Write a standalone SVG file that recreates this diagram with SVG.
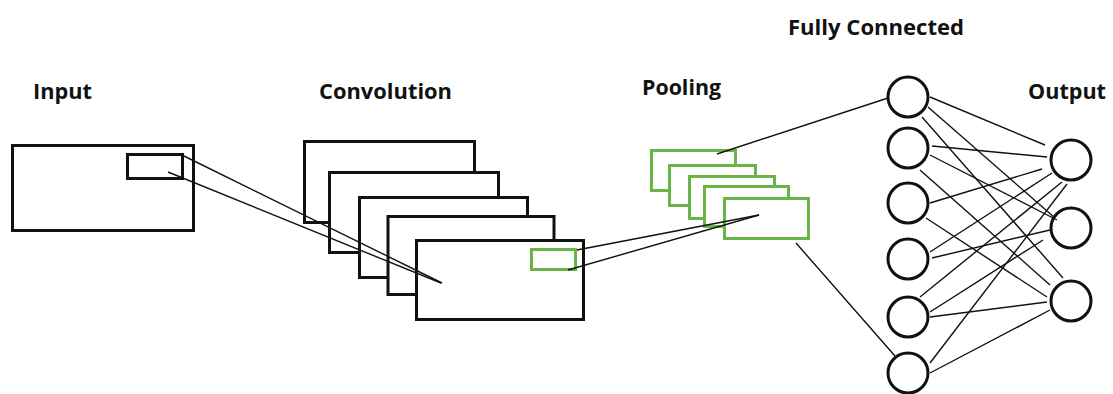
<svg xmlns="http://www.w3.org/2000/svg" width="1113" height="394" viewBox="0 0 1113 394">
<style>
.lbl{font-family:"Open Sans","Liberation Sans",sans-serif;font-weight:bold;font-size:22px;fill:#111}
.blk{fill:#fff;stroke:#111;stroke-width:3}
.grn{fill:#fff;stroke:#6ab547;stroke-width:3}
.grn0{fill:none;stroke:#6ab547;stroke-width:3}
.node{fill:#fff;stroke:#111;stroke-width:3}
.ln{stroke:#111;stroke-width:1.4;fill:none}
</style>
<rect width="1113" height="394" fill="#fff"/>
<g id="labels">
<text class="lbl" x="33" y="99" textLength="59" lengthAdjust="spacingAndGlyphs">Input</text>
<text class="lbl" x="319" y="99" textLength="133" lengthAdjust="spacingAndGlyphs">Convolution</text>
<text class="lbl" x="642" y="95" textLength="79" lengthAdjust="spacingAndGlyphs">Pooling</text>
<text class="lbl" x="788" y="35" textLength="176" lengthAdjust="spacingAndGlyphs">Fully Connected</text>
<text class="lbl" x="1028" y="99" textLength="78" lengthAdjust="spacingAndGlyphs">Output</text>
</g>
<g id="input">
<rect class="blk" x="12.5" y="145.5" width="181" height="85"/>
<rect class="blk" x="127.5" y="154.5" width="55" height="24"/>
</g>
<g id="convolution">
<rect class="blk" x="304.5" y="141.5" width="170" height="81"/>
<rect class="blk" x="329.5" y="172.5" width="169" height="80"/>
<rect class="blk" x="359.5" y="197.5" width="168" height="80"/>
<rect class="blk" x="388" y="216.5" width="166" height="78"/>
<rect class="blk" x="416.5" y="240.5" width="167" height="79"/>
<rect class="grn0" x="531.5" y="249.5" width="44" height="20"/>
</g>
<g id="pooling">
<rect class="grn" x="651.5" y="150.5" width="84" height="40"/>
<rect class="grn" x="669.5" y="165.5" width="86" height="40"/>
<rect class="grn" x="689.5" y="176.5" width="85" height="42"/>
<rect class="grn" x="704.5" y="186.5" width="84" height="40"/>
<rect class="grn" x="724.5" y="198.5" width="84" height="40"/>
</g>
<g id="fully-connected">
<circle class="node" cx="908" cy="97" r="20"/>
<circle class="node" cx="908" cy="148" r="20"/>
<circle class="node" cx="908" cy="203" r="20"/>
<circle class="node" cx="908" cy="259" r="20"/>
<circle class="node" cx="908" cy="317" r="20"/>
<circle class="node" cx="908" cy="373" r="20"/>
</g>
<g id="output">
<circle class="node" cx="1071" cy="160" r="20"/>
<circle class="node" cx="1071" cy="228" r="20"/>
<circle class="node" cx="1071" cy="301" r="20"/>
</g>
<g id="connectors" class="ln">
<line x1="184" y1="156" x2="442" y2="283"/>
<line x1="168" y1="172" x2="441" y2="283"/>
<line x1="577" y1="250" x2="759" y2="215"/>
<line x1="568" y1="270" x2="759" y2="215"/>
<line x1="717" y1="154" x2="888" y2="98"/>
<line x1="796" y1="243" x2="895" y2="356"/>
<line x1="930" y1="97" x2="1045" y2="145"/>
<line x1="928" y1="107" x2="1055" y2="218"/>
<line x1="922" y1="117" x2="1063" y2="278"/>
<line x1="932" y1="146" x2="1047" y2="157"/>
<line x1="930" y1="155" x2="1057" y2="220"/>
<line x1="920" y1="170" x2="1050" y2="285"/>
<line x1="930" y1="203" x2="1042" y2="169"/>
<line x1="926" y1="218" x2="1047" y2="297"/>
<line x1="930" y1="252" x2="1052" y2="173"/>
<line x1="932" y1="258" x2="1050" y2="230"/>
<line x1="920" y1="297" x2="1062" y2="182"/>
<line x1="930" y1="312" x2="1043" y2="240"/>
<line x1="930" y1="317" x2="1047" y2="302"/>
<line x1="930" y1="363" x2="1067" y2="184"/>
<line x1="930" y1="373" x2="1050" y2="310"/>
</g>
</svg>
